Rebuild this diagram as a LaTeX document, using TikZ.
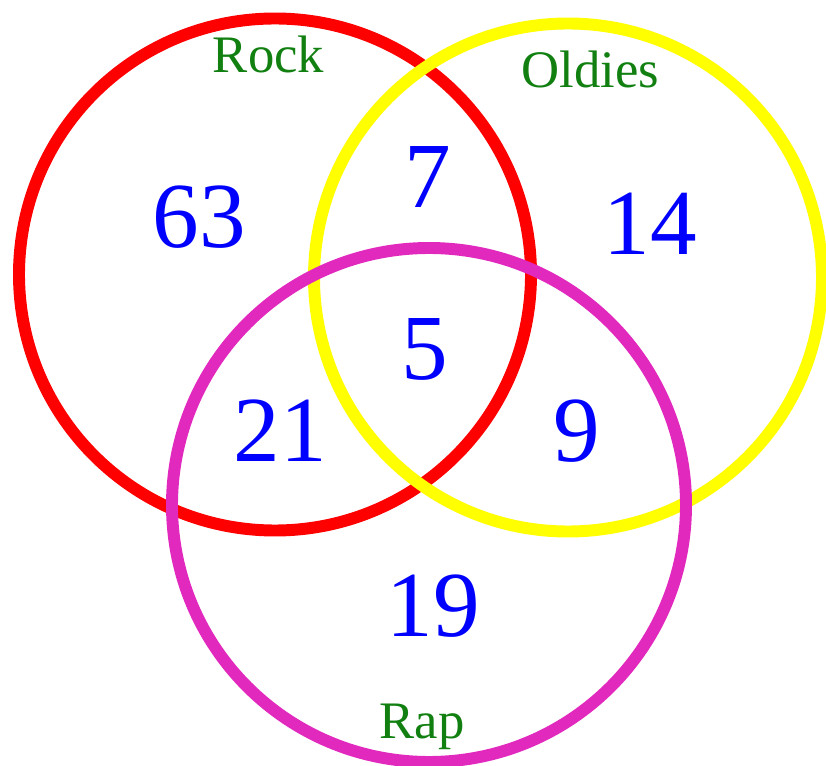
\documentclass[tikz,border=0pt]{standalone}
\usepackage{fontspec}
\setmainfont{Liberation Serif}
\usepackage{xcolor}
\definecolor{rockred}{RGB}{255, 0, 0}
\definecolor{oldiesyellow}{RGB}{255, 255, 0}
\definecolor{rapmagenta}{RGB}{226, 41, 190}
\definecolor{labelgreen}{RGB}{17, 128, 17}
\definecolor{countblue}{RGB}{0, 0, 255}
\usepackage{tikz}

\begin{document}
\begin{tikzpicture}[ring/.style={line width=3.4pt},
    setlabel/.style={text=labelgreen, font=\fontsize{15}{18}\selectfont, anchor=base, inner sep=0pt},
    count/.style={text=countblue, font=\fontsize{26.5}{30}\selectfont, anchor=base, inner sep=0pt}]
    \useasboundingbox (0,0) rectangle (8.26,7.65);

    % Sets
    \draw[ring, rockred] (2.75,4.905) circle (2.56);
    \draw[ring, oldiesyellow] (5.68,4.875) circle (2.54);
    \draw[ring, rapmagenta] (4.29,2.60) circle (2.57);

    % Set names
    \node[setlabel] (rock) at (2.685,6.92) {Rock};
    \node[setlabel] (oldies) at (5.905,6.77) {Oldies};
    \node[setlabel] (rap) at (4.22,0.27) {Rap};

    % Counts
    \node[count] (onlyrock) at (1.99,5.17) {63};
    \node[count] (rockoldies) at (4.28,5.57) {7};
    \node[count] (onlyoldies) at (6.50,5.10) {14};
    \node[count] (allthree) at (4.25,3.85) {5};
    \node[count] (rockrap) at (2.80,3.03) {21};
    \node[count] (oldiesrap) at (5.77,3.03) {9};
    \node[count] (onlyrap) at (4.33,1.29) {19};
\end{tikzpicture}
\end{document}
